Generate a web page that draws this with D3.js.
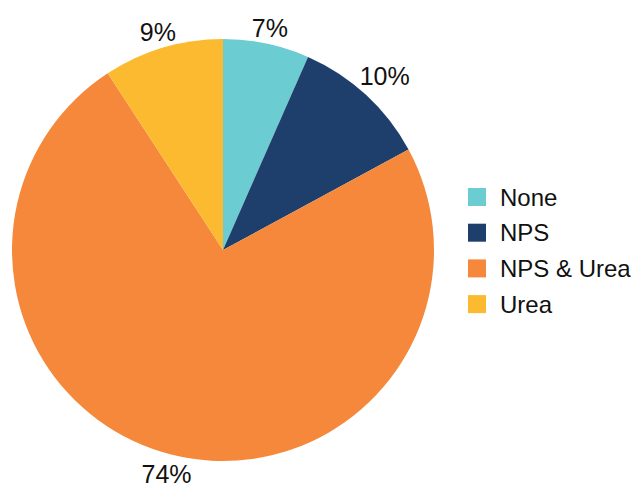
<!DOCTYPE html>
<html>
<head>
<meta charset="utf-8">
<script src="https://cdn.jsdelivr.net/npm/d3@7/dist/d3.min.js"></script>
<style>
    html, body { margin: 0; padding: 0; background: #fff; }
    text { font-family: "Liberation Sans", Arial, sans-serif; fill: #111; }
</style>
</head>
<body>
<svg id="chart" width="639" height="487"></svg>
<script>
    // data
    var categories = ['None', 'NPS', 'NPS & Urea', 'Urea'];
    var shares = [6.6, 10.5, 73.7, 9.2];
    var labels = ['7%', '10%', '74%', '9%'];
    var colors = ['#6bccd2', '#1e3f6b', '#f5883a', '#fbba30'];

    var svg = d3.select('#chart'),
        cx = 223,
        cy = 250,
        radius = 211;

    var color = d3.scaleOrdinal().domain(categories).range(colors);

    var pie = d3.pie().sort(null).value(function (d) { return d.value; });
    var arc = d3.arc().innerRadius(0).outerRadius(radius);

    var rows = categories.map(function (c, i) {
        return { name: c, value: shares[i], label: labels[i] };
    });

    var $pie = svg.append('g')
        .attr('transform', 'translate(' + cx + ',' + cy + ')');

    var arcs = pie(rows);

    $pie.selectAll('path')
        .data(arcs)
        .enter()
        .append('path')
        .attr('d', arc)
        .attr('fill', function (d) { return color(d.data.name); });

    // labels sit just outside the rim, pushed out by half their box
    $pie.selectAll('text.pct')
        .data(arcs)
        .enter()
        .append('text')
        .attr('class', 'pct')
        .attr('text-anchor', 'middle')
        .attr('dominant-baseline', 'central')
        .style('font-size', '25px')
        .text(function (d) { return d.data.label; })
        .each(function (d) {
            var box = this.getBBox(),
                a = (d.startAngle + d.endAngle) / 2,
                s = Math.sin(a),
                c = -Math.cos(a),
                r = radius + 4 + Math.abs(s) * box.width / 2 + Math.abs(c) * 9;
            d3.select(this)
                .attr('x', s * r)
                .attr('y', c * r + 1);
        });

    // legend
    var $legend = svg.append('g')
        .attr('transform', 'translate(468,188)');

    var item = $legend.selectAll('g')
        .data(categories)
        .enter()
        .append('g')
        .attr('transform', function (d, i) { return 'translate(0,' + (i * 35.7) + ')'; });

    item.append('rect')
        .attr('width', 18)
        .attr('height', 18)
        .attr('fill', function (d) { return color(d); });

    item.append('text')
        .attr('x', 32)
        .attr('y', 9)
        .attr('dominant-baseline', 'central')
        .style('font-size', '24px')
        .text(function (d) { return d; });
</script>
</body>
</html>
